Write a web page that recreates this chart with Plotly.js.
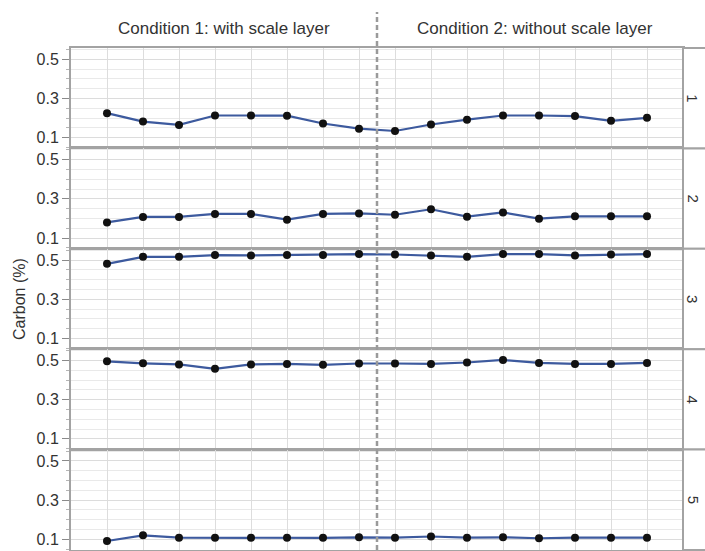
<!DOCTYPE html>
<html>
<head>
<meta charset="utf-8">
<script src="https://cdn.plot.ly/plotly-3.0.1.min.js"></script>
<style>
  html, body { margin: 0; padding: 0; background: #ffffff; }
  #chart { width: 705px; height: 551px; }
</style>
</head>
<body>
<div id="chart"></div>
<script>
// Sample positions (8 per condition)
const positions = [1, 2, 3, 4, 5, 6, 7, 8, 9, 10, 11, 12, 13, 14, 15, 16];

// Carbon (%) per panel
const panel1 = [0.225, 0.182, 0.165, 0.213, 0.213, 0.212, 0.172, 0.146, 0.134, 0.167, 0.192, 0.213, 0.213, 0.210, 0.186, 0.201];
const panel2 = [0.180, 0.208, 0.208, 0.223, 0.223, 0.194, 0.223, 0.226, 0.219, 0.247, 0.209, 0.231, 0.199, 0.211, 0.211, 0.211];
const panel3 = [0.481, 0.517, 0.517, 0.526, 0.524, 0.526, 0.526, 0.531, 0.529, 0.524, 0.517, 0.531, 0.531, 0.524, 0.529, 0.531];
const panel4 = [0.496, 0.486, 0.480, 0.458, 0.480, 0.483, 0.478, 0.485, 0.485, 0.483, 0.490, 0.503, 0.488, 0.483, 0.483, 0.488];
const panel5 = [0.091, 0.120, 0.108, 0.107, 0.108, 0.107, 0.107, 0.110, 0.108, 0.114, 0.108, 0.110, 0.105, 0.108, 0.108, 0.108];

const panels = [panel1, panel2, panel3, panel4, panel5];
const panelLabels = ["1", "2", "3", "4", "5"];
const conditionLabels = ["Condition 1: with scale layer", "Condition 2: without scale layer"];
const yTitle = "Carbon (%)";
const splitPosition = 8.5;

const FONT = "Liberation Sans, Arial, Helvetica, sans-serif";
const xMin = 0, xMax = 17;
const yMin = 0.045, yMax = 0.558;
const border = "#a3a3a3";

const traces = panels.map((vals, i) => ({
  x: positions,
  y: vals,
  xaxis: i === 0 ? "x" : "x" + (i + 1),
  yaxis: i === 0 ? "y" : "y" + (i + 1),
  type: "scatter",
  mode: "lines+markers",
  line: { color: "#3d5a9e", width: 2.2 },
  marker: { color: "#111111", size: 8 },
  hoverinfo: "x+y"
}));

const layout = {
  width: 705,
  height: 551,
  margin: { l: 71, r: 22, t: 48, b: 1 },
  paper_bgcolor: "#ffffff",
  plot_bgcolor: "#ffffff",
  showlegend: false,
  font: { family: FONT, color: "#333333" },
  shapes: [],
  annotations: []
};

const n = panels.length;
const h = 1 / n;
for (let i = 0; i < n; i++) {
  const xk = i === 0 ? "xaxis" : "xaxis" + (i + 1);
  const yk = i === 0 ? "yaxis" : "yaxis" + (i + 1);
  const yId = i === 0 ? "y" : "y" + (i + 1);
  const xId = i === 0 ? "x" : "x" + (i + 1);
  const top = 1 - h * i;
  const bot = 1 - h * (i + 1);
  layout[xk] = {
    domain: [0, 1],
    anchor: yId,
    range: [xMin, xMax],
    tickmode: "linear",
    tick0: 0,
    dtick: 1,
    showticklabels: false,
    ticks: "",
    showgrid: true,
    gridcolor: "#dddddd",
    gridwidth: 1,
    zeroline: false,
    showline: true,
    mirror: true,
    linecolor: border,
    linewidth: 2,
    fixedrange: true
  };
  if (i > 0) layout[xk].matches = "x";
  layout[yk] = {
    domain: [bot, top],
    anchor: xId,
    range: [yMin, yMax],
    tickmode: "linear",
    tick0: 0.1,
    dtick: 0.2,
    tickformat: ".1f",
    ticks: "outside",
    ticklen: 7,
    tickwidth: 1,
    tickcolor: "#8a8a8a",
    tickfont: { family: FONT, size: 16, color: "#333333" },
    showgrid: true,
    gridcolor: "#dcdcdc",
    gridwidth: 1,
    minor: {
      tickmode: "linear",
      tick0: 0,
      dtick: 0.05,
      ticks: "outside",
      ticklen: 3,
      tickcolor: "#b5b5b5",
      showgrid: true,
      gridcolor: "#e9e9e9",
      gridwidth: 1
    },
    zeroline: false,
    showline: true,
    mirror: true,
    linecolor: border,
    linewidth: 2,
    fixedrange: true
  };
  // strip box on the right
  layout.shapes.push({
    type: "rect", xref: "paper", yref: "paper",
    x0: 1, x1: 1.08, y0: bot, y1: top,
    line: { color: border, width: 2 },
    fillcolor: "#ffffff",
    layer: "above"
  });
  layout.annotations.push({
    xref: "paper", yref: "paper",
    x: 1.0163, y: (top + bot) / 2,
    text: panelLabels[i],
    textangle: 90,
    showarrow: false,
    xanchor: "center", yanchor: "middle",
    font: { family: FONT, size: 15, color: "#333333" }
  });
}

// dashed separator between conditions
layout.shapes.push({
  type: "line", xref: "paper", yref: "paper",
  x0: splitPosition / xMax, x1: splitPosition / xMax,
  y0: 0, y1: 1.0717,
  line: { color: "#9a9a9a", width: 2.5, dash: "5px,3px" },
  layer: "above"
});

// condition headers
layout.annotations.push({
  xref: "paper", yref: "paper", x: 0.25, y: 1.0398,
  text: conditionLabels[0], showarrow: false,
  xanchor: "center", yanchor: "middle",
  font: { family: FONT, size: 17, color: "#333333" }
});
layout.annotations.push({
  xref: "paper", yref: "paper", x: 0.758, y: 1.0398,
  text: conditionLabels[1], showarrow: false,
  xanchor: "center", yanchor: "middle",
  font: { family: FONT, size: 17, color: "#333333" }
});

// y axis title
layout.annotations.push({
  xref: "paper", yref: "paper", x: 0, xshift: -52, y: 0.5,
  text: yTitle, textangle: -90, showarrow: false,
  xanchor: "center", yanchor: "middle",
  font: { family: FONT, size: 16, color: "#333333" }
});

Plotly.newPlot("chart", traces, layout, { displayModeBar: false, staticPlot: true });
</script>
</body>
</html>
